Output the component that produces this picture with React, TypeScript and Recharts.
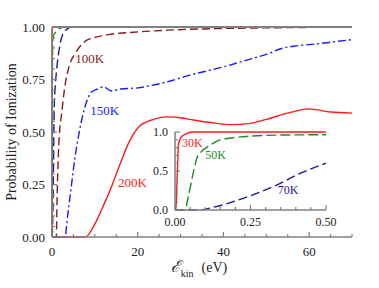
import React from "react";
import { LineChart, Line, XAxis, YAxis, ReferenceDot, ReferenceLine } from "recharts";

// ionization probability vs kinetic energy (eV), one list per temperature
const curve30K = [
  { x: 0, y: 0 }, { x: 0.003, y: 0 }, { x: 0.006, y: 0.3 }, { x: 0.009, y: 0.6 },
  { x: 0.011, y: 0.83 }, { x: 0.02, y: 0.93 }, { x: 0.033, y: 0.97 }, { x: 0.06, y: 1 },
  { x: 0.5, y: 1 }, { x: 70, y: 1 },
];
const curve50K = [
  { x: 0, y: 0 }, { x: 0.033, y: 0 }, { x: 0.044, y: 0.17 }, { x: 0.06, y: 0.47 },
  { x: 0.072, y: 0.66 }, { x: 0.088, y: 0.75 }, { x: 0.116, y: 0.83 }, { x: 0.143, y: 0.89 },
  { x: 0.225, y: 0.94 }, { x: 0.337, y: 0.96 }, { x: 0.5, y: 0.965 }, { x: 1, y: 0.98 },
  { x: 2, y: 0.995 }, { x: 3, y: 1 }, { x: 70, y: 1 },
];
const curve70K = [
  { x: 0, y: 0 }, { x: 0.077, y: 0 }, { x: 0.127, y: 0.035 }, { x: 0.226, y: 0.15 },
  { x: 0.337, y: 0.32 }, { x: 0.414, y: 0.47 }, { x: 0.5, y: 0.6 }, { x: 0.7, y: 0.7 },
  { x: 1, y: 0.78 }, { x: 1.5, y: 0.87 }, { x: 2, y: 0.93 }, { x: 2.6, y: 0.97 },
  { x: 3.5, y: 0.99 }, { x: 4.5, y: 1 }, { x: 70, y: 1 },
];
const curve100K = [
  { x: 0, y: 0 }, { x: 1, y: 0 }, { x: 1.2, y: 0.2 }, { x: 1.5, y: 0.4 },
  { x: 1.8, y: 0.51 }, { x: 2.2, y: 0.58 }, { x: 2.95, y: 0.71 }, { x: 4.1, y: 0.82 },
  { x: 5.3, y: 0.87 }, { x: 7.6, y: 0.93 }, { x: 10, y: 0.95 }, { x: 13.5, y: 0.965 },
  { x: 19, y: 0.975 }, { x: 27, y: 0.985 }, { x: 40, y: 0.993 }, { x: 55, y: 0.997 },
  { x: 70, y: 1 },
];
const curve150K = [
  { x: 0, y: 0 }, { x: 3, y: 0 }, { x: 3.7, y: 0.11 }, { x: 4.5, y: 0.24 },
  { x: 5.3, y: 0.37 }, { x: 6.45, y: 0.51 }, { x: 8, y: 0.64 }, { x: 9.2, y: 0.69 },
  { x: 10.7, y: 0.705 }, { x: 12, y: 0.715 }, { x: 14, y: 0.695 }, { x: 16, y: 0.705 },
  { x: 20, y: 0.71 }, { x: 24, y: 0.725 }, { x: 28, y: 0.745 }, { x: 32, y: 0.77 },
  { x: 36, y: 0.79 }, { x: 40, y: 0.81 }, { x: 45, y: 0.84 }, { x: 50, y: 0.87 },
  { x: 54, y: 0.9 }, { x: 57, y: 0.91 }, { x: 62, y: 0.92 }, { x: 66, y: 0.93 },
  { x: 70, y: 0.94 },
];
const curve200K = [
  { x: 0, y: 0 }, { x: 7.6, y: 0 }, { x: 8.5, y: 0.01 }, { x: 9.2, y: 0.033 },
  { x: 10.7, y: 0.09 }, { x: 12, y: 0.15 }, { x: 13.5, y: 0.22 }, { x: 15, y: 0.3 },
  { x: 16.5, y: 0.38 }, { x: 17.7, y: 0.44 }, { x: 19, y: 0.49 }, { x: 20.5, y: 0.53 },
  { x: 23, y: 0.555 }, { x: 27, y: 0.572 }, { x: 30, y: 0.568 }, { x: 33, y: 0.557 },
  { x: 37, y: 0.545 }, { x: 42, y: 0.535 }, { x: 46, y: 0.54 }, { x: 50, y: 0.56 },
  { x: 55, y: 0.59 }, { x: 60, y: 0.61 }, { x: 65, y: 0.595 }, { x: 70, y: 0.59 },
];

// ticks
const mainXTicks = [0, 5, 10, 15, 20, 25, 30, 35, 40, 45, 50, 55, 60, 65, 70];
const mainXLabels = [0, 20, 40, 60];
const mainYTicks = [0, 0.05, 0.1, 0.15, 0.2, 0.25, 0.3, 0.35, 0.4, 0.45, 0.5, 0.55, 0.6, 0.65, 0.7, 0.75, 0.8, 0.85, 0.9, 0.95, 1];
const mainYLabels = [0, 0.25, 0.5, 0.75, 1];
const insetXTicks = [0, 0.05, 0.1, 0.15, 0.2, 0.25, 0.3, 0.35, 0.4, 0.45, 0.5];
const insetXLabels = [0, 0.25, 0.5];
const insetYTicks = [0, 0.1, 0.2, 0.3, 0.4, 0.5, 0.6, 0.7, 0.8, 0.9, 1];
const insetYLabels = [0, 0.5, 1];

const FONT = "'Liberation Serif', 'Times New Roman', serif";
const FRAME = "#808080";
const RED = "#ff1a1a";
const GREEN = "#1e8c1e";
const NAVY = "#1a1a99";
const MAROON = "#8b1a1a";
const BLUE = "#1a1aff";

const isIn = (v: number, list: number[]) => list.some((l) => Math.abs(l - v) < 1e-9);

// inward tick marks with optional labels; side tells which frame edge
const makeTick =
  (side: "bottom" | "top" | "left" | "right", labels: number[], digits: number, fontSize: number, gap: number) =>
  (props: any) => {
    const { x, y, payload } = props;
    const v = payload.value as number;
    const major = isIn(v, labels);
    const len = major ? 5 : 3;
    const txt = side === "bottom" || side === "left" ? (major ? v.toFixed(digits) : null) : null;
    let line;
    if (side === "bottom") line = <line x1={x} y1={y} x2={x} y2={y - len} />;
    else if (side === "top") line = <line x1={x} y1={y} x2={x} y2={y + len} />;
    else if (side === "left") line = <line x1={x} y1={y} x2={x + len} y2={y} />;
    else line = <line x1={x} y1={y} x2={x - len} y2={y} />;
    return (
      <g stroke={FRAME} strokeWidth={1.2}>
        {line}
        {txt !== null && side === "bottom" && (
          <text x={x} y={y + gap} textAnchor="middle" fill="#222" stroke="none" fontSize={fontSize} fontFamily={FONT}>
            {txt}
          </text>
        )}
        {txt !== null && side === "left" && (
          <text x={x - gap} y={y + fontSize * 0.35} textAnchor="end" fill="#222" stroke="none" fontSize={fontSize} fontFamily={FONT}>
            {txt}
          </text>
        )}
      </g>
    );
  };

const mainLabels = [
  { text: "100K", x: 5.4, y: 0.83, color: MAROON },
  { text: "150K", x: 8.9, y: 0.58, color: BLUE },
  { text: "200K", x: 15.4, y: 0.24, color: RED },
];
const insetLabels = [
  { text: "30K", x: 0.023, y: 0.81, color: RED },
  { text: "50K", x: 0.1, y: 0.65, color: GREEN },
  { text: "70K", x: 0.34, y: 0.2, color: NAVY },
];

const XTitle = (props: any) => {
  const vb = props.viewBox;
  const cx = vb.x + vb.width / 2 - 3;
  const y = vb.y + 35;
  return (
    <text x={cx} y={y} textAnchor="middle" fontFamily={FONT} fill="#222">
      <tspan fontSize={16} fontStyle="italic">ℰ</tspan>
      <tspan fontSize={10} dy={5}>kin</tspan>
      <tspan fontSize={14} dy={-5} dx={8}>(eV)</tspan>
    </text>
  );
};

const YTitle = (props: any) => {
  const vb = props.viewBox;
  const cy = vb.y + vb.height / 2;
  return (
    <text x={16} y={cy} transform={`rotate(-90 16 ${cy})`} textAnchor="middle" fontFamily={FONT} fontSize={14} fill="#222">
      Probability of Ionization
    </text>
  );
};

const insetOnly = (d: { x: number; y: number }[]) => d.filter((p) => p.x <= 0.5);

export default function App() {
  return (
    <div style={{ position: "absolute", left: 0, top: 0, width: 379, height: 288, background: "#fff" }}>
      <LineChart width={379} height={288} margin={{ top: 27, right: 27, bottom: 21, left: 12 }}>
        <XAxis
          xAxisId="b"
          type="number"
          dataKey="x"
          domain={[0, 70]}
          ticks={mainXTicks}
          interval={0}
          height={30}
          tickSize={0}
          tickMargin={0}
          tickLine={false}
          stroke={FRAME}
          strokeWidth={1.5}
          tick={makeTick("bottom", mainXLabels, 0, 13, 19)}
          label={<XTitle />}
        />
        <XAxis
          xAxisId="t"
          orientation="top"
          type="number"
          dataKey="x"
          domain={[0, 70]}
          ticks={mainXTicks}
          interval={0}
          height={0}
          tickSize={0}
          tickMargin={0}
          tickLine={false}
          stroke={FRAME}
          strokeWidth={1.5}
          tick={makeTick("top", mainXLabels, 0, 13, 0)}
        />
        <YAxis
          yAxisId="l"
          type="number"
          domain={[0, 1]}
          ticks={mainYTicks}
          interval={0}
          width={40}
          tickSize={0}
          tickMargin={0}
          tickLine={false}
          stroke={FRAME}
          strokeWidth={1.5}
          tick={makeTick("left", mainYLabels, 2, 13, 7)}
          label={<YTitle />}
        />
        <YAxis
          yAxisId="r"
          orientation="right"
          type="number"
          domain={[0, 1]}
          ticks={mainYTicks}
          interval={0}
          width={0}
          tickSize={0}
          tickMargin={0}
          tickLine={false}
          stroke={FRAME}
          strokeWidth={1.5}
          tick={makeTick("right", mainYLabels, 2, 13, 0)}
        />
        <Line xAxisId="b" yAxisId="l" data={curve200K} dataKey="y" type="monotone" stroke={RED} strokeWidth={1.4} dot={false} isAnimationActive={false} />
        <Line xAxisId="b" yAxisId="l" data={curve150K} dataKey="y" type="monotone" stroke={BLUE} strokeWidth={1.4} strokeDasharray="8 3 2 3" dot={false} isAnimationActive={false} />
        <Line xAxisId="b" yAxisId="l" data={curve30K} dataKey="y" type="monotone" stroke={RED} strokeWidth={1.4} dot={false} isAnimationActive={false} />
        <Line xAxisId="b" yAxisId="l" data={curve100K} dataKey="y" type="monotone" stroke={MAROON} strokeWidth={1.4} strokeDasharray="8 4" dot={false} isAnimationActive={false} />
        <Line xAxisId="b" yAxisId="l" data={curve70K} dataKey="y" type="monotone" stroke={NAVY} strokeWidth={1.4} strokeDasharray="9 4" dot={false} isAnimationActive={false} />
        <Line xAxisId="b" yAxisId="l" data={curve50K} dataKey="y" type="monotone" stroke={GREEN} strokeWidth={1.4} strokeDasharray="10 4" dot={false} isAnimationActive={false} />
        {/* top frame edge repainted above the curves, starting just right of the 30K rise */}
        <ReferenceLine
          xAxisId="b"
          yAxisId="l"
          segment={[{ x: 1, y: 1 }, { x: 70, y: 1 }]}
          stroke={FRAME}
          strokeWidth={2}
        />
        {mainLabels.map((l) => (
          <ReferenceDot
            key={l.text}
            xAxisId="b"
            yAxisId="l"
            x={l.x}
            y={l.y}
            r={0}
            shape={(p: any) => (
              <text x={p.cx} y={p.cy} fill={l.color} fontSize={13} fontFamily={FONT}>
                {l.text}
              </text>
            )}
          />
        ))}
      </LineChart>

      <div style={{ position: "absolute", left: 140, top: 120 }}>
        <LineChart width={200} height={115} margin={{ top: 12, right: 14, bottom: 5, left: 5 }}>
          <XAxis
            xAxisId="b"
            type="number"
            dataKey="x"
            domain={[0, 0.5]}
            ticks={insetXTicks}
            interval={0}
            height={20}
            tickSize={0}
            tickMargin={0}
            tickLine={false}
            stroke={FRAME}
            strokeWidth={1.5}
            tick={makeTick("bottom", insetXLabels, 2, 12, 16)}
          />
          <XAxis
            xAxisId="t"
            orientation="top"
            type="number"
            dataKey="x"
            domain={[0, 0.5]}
            ticks={insetXTicks}
            interval={0}
            height={0}
            tickSize={0}
            tickMargin={0}
            tickLine={false}
            stroke={FRAME}
            strokeWidth={1.5}
            tick={makeTick("top", insetXLabels, 2, 12, 0)}
          />
          <YAxis
            yAxisId="l"
            type="number"
            domain={[0, 1]}
            ticks={insetYTicks}
            interval={0}
            width={30}
            tickSize={0}
            tickMargin={0}
            tickLine={false}
            stroke={FRAME}
            strokeWidth={1.5}
            tick={makeTick("left", insetYLabels, 1, 12, 7)}
          />
          <YAxis
            yAxisId="r"
            orientation="right"
            type="number"
            domain={[0, 1]}
            ticks={insetYTicks}
            interval={0}
            width={0}
            tickSize={0}
            tickMargin={0}
            tickLine={false}
            stroke={FRAME}
            strokeWidth={1.5}
            tick={makeTick("right", insetYLabels, 1, 12, 0)}
          />
          <Line xAxisId="b" yAxisId="l" data={insetOnly(curve70K)} dataKey="y" type="monotone" stroke={NAVY} strokeWidth={1.4} strokeDasharray="9 4" dot={false} isAnimationActive={false} />
          <Line xAxisId="b" yAxisId="l" data={insetOnly(curve50K)} dataKey="y" type="monotone" stroke={GREEN} strokeWidth={1.4} strokeDasharray="10 4" dot={false} isAnimationActive={false} />
          <Line xAxisId="b" yAxisId="l" data={insetOnly(curve30K)} dataKey="y" type="monotone" stroke={RED} strokeWidth={1.4} dot={false} isAnimationActive={false} />
          {insetLabels.map((l) => (
            <ReferenceDot
              key={l.text}
              xAxisId="b"
              yAxisId="l"
              x={l.x}
              y={l.y}
              r={0}
              shape={(p: any) => (
                <text x={p.cx} y={p.cy} fill={l.color} fontSize={12} fontFamily={FONT}>
                  {l.text}
                </text>
              )}
            />
          ))}
        </LineChart>
      </div>
    </div>
  );
}
